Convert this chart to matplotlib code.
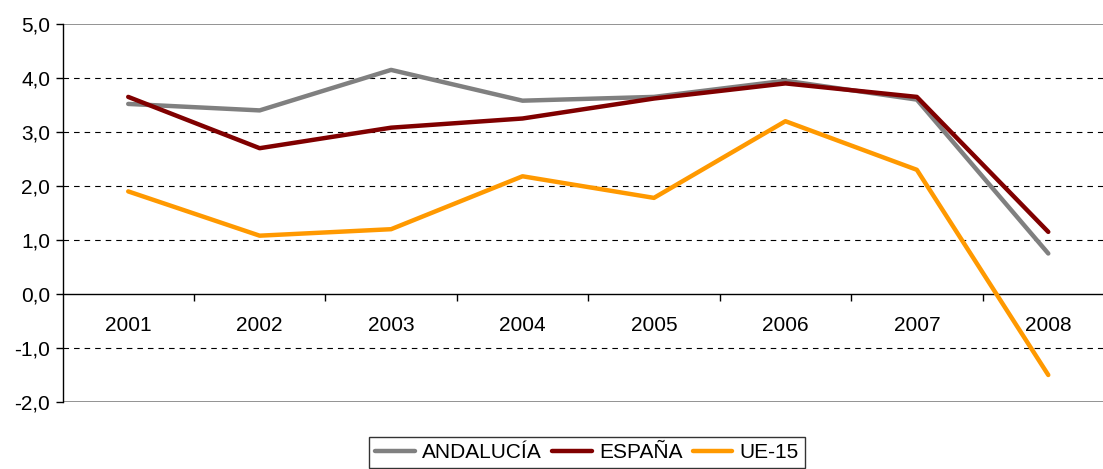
import matplotlib
matplotlib.use("Agg")
import matplotlib.pyplot as plt
import numpy as np

years = ["2001", "2002", "2003", "2004", "2005", "2006", "2007", "2008"]
andalucia = [3.52, 3.40, 4.15, 3.58, 3.65, 3.95, 3.60, 0.75]
espana = [3.65, 2.70, 3.08, 3.25, 3.62, 3.90, 3.65, 1.15]
ue15 = [1.90, 1.08, 1.20, 2.18, 1.78, 3.20, 2.30, -1.50]
yticks = [-2.0, -1.0, 0.0, 1.0, 2.0, 3.0, 4.0, 5.0]

plt.rcParams['font.family'] = ['Liberation Sans', 'DejaVu Sans']

fig = plt.figure(figsize=(11.03, 4.69), dpi=100)
ax = fig.add_axes([62.5/1103, 67/469, (1114-62.5)/1103, 378/469])

x = np.arange(len(years))
ax.plot(x, andalucia, color="#808080", lw=3.2, solid_capstyle="round", label="ANDALUCÍA", zorder=3)
ax.plot(x, espana, color="#800000", lw=3.2, solid_capstyle="round", label="ESPAÑA", zorder=4)
ax.plot(x, ue15, color="#FF9900", lw=3.2, solid_capstyle="round", label="UE-15", zorder=5)

ax.set_xlim(-0.5, len(years) - 0.5)
ax.set_ylim(-2.0, 5.0)

# gridlines
for v in yticks:
    if v in (5.0, -2.0):
        ax.axhline(v, color="#808080", lw=1.2, zorder=1)
    elif v != 0.0:
        ax.axhline(v, color="#000000", lw=0.8, dashes=(5, 4.5), zorder=1)

ax.spines['top'].set_visible(False)
ax.spines['right'].set_visible(False)
ax.spines['left'].set_color("#000000")
ax.spines['left'].set_linewidth(1.0)
ax.spines['bottom'].set_position(('data', 0))
ax.spines['bottom'].set_color("#000000")
ax.spines['bottom'].set_linewidth(1.0)

ax.set_yticks(yticks)
ax.set_yticklabels([f"{v:.1f}".replace(".", ",") for v in yticks], fontsize=15)
ax.tick_params(axis='y', direction='out', length=5, width=1, pad=4)

ax.set_xticks(x)
ax.set_xticklabels(years, fontsize=15)
ax.tick_params(axis='x', which='major', length=0, pad=16)
ax.set_xticks(np.arange(len(years)) + 0.5, minor=True)
ax.tick_params(axis='x', which='minor', direction='out', length=5, width=1)

leg = fig.legend(loc='lower center', bbox_to_anchor=(587/1103, 0.002), ncol=3,
                 fontsize=15, frameon=True, fancybox=False, edgecolor="#000000",
                 handlelength=1.9, handletextpad=0.35, columnspacing=0.5,
                 borderpad=0.3, borderaxespad=0.0)
leg.get_frame().set_linewidth(1.0)
for h in leg.get_lines():
    h.set_solid_capstyle("round")
    h.set_linewidth(3.2)

fig.savefig("out.png", dpi=100)
